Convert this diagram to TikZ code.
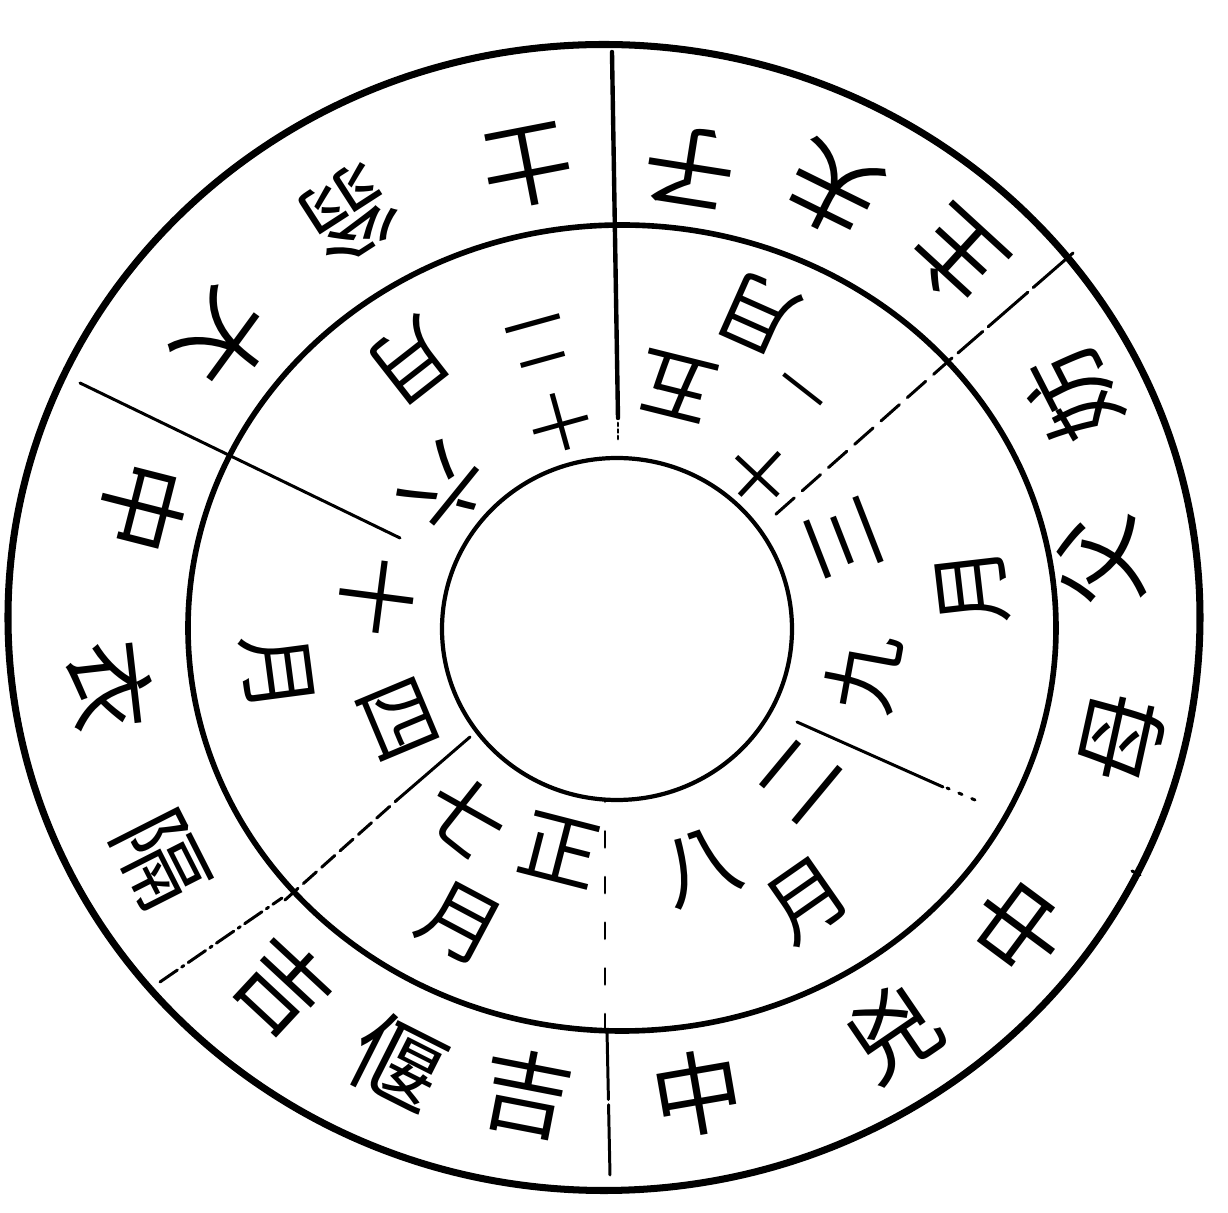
\documentclass[tikz,border=0pt]{standalone}
\usepackage{fontspec}
\newfontfamily\ringfont{Noto Sans CJK TC}
\tikzset{
  rim line/.style={draw=black,line width=4pt},
  ring line/.style={draw=black,line width=3.2pt},
  hub line/.style={draw=black,line width=2.4pt},
  spoke line/.style={black,line width=1.7pt,line cap=round},
  outer char/.style={font=\ringfont\fontsize{52}{52}\selectfont,inner sep=0pt},
  month char/.style={font=\ringfont\fontsize{46}{46}\selectfont,inner sep=0pt},
  month pair/.style={font=\ringfont\fontsize{36}{47}\selectfont,inner sep=0pt,align=center},
  month dash/.style={font=\ringfont\fontsize{30}{30}\selectfont,inner sep=0pt}
}
% #1 name, #2 angle, #3 radius, #4 text (top of the sign towards the centre)
\newcommand{\ringcharat}[4]{%
  \node[outer char,rotate=#2+90] (#1) at (#2:#3) {#4};%
}
\newcommand{\monthcharat}[4]{%
  \node[month char,rotate=#2+90] (#1) at (#2:#3) {#4};%
}
\newcommand{\monthpairat}[4]{%
  \node[month pair,rotate=#2+90] (#1) at (#2:#3) {#4};%
}

\begin{document}
\begin{tikzpicture}[x=0.02cm,y=0.02cm]
  \useasboundingbox (-617,-585) rectangle (611,628);
  % circles
  \draw[rim line] (-13,10.5) ellipse [x radius=596,y radius=573];
  \draw[ring line] (5,0) ellipse [x radius=434,y radius=403];
  \draw[hub line] (0,-1) ellipse [x radius=175,y radius=171];
  % spokes
  \draw[spoke line,line width=2.5pt] (-5,576) -- (1,210);
  \draw[spoke line,dotted] (1,205) -- (1,188);
  \draw[spoke line,dash pattern=on 30pt off 4pt] (456,375) -- (341,275);
  \draw[spoke line,dash pattern=on 14pt off 6pt] (335,270) -- (158,113);
  \draw[spoke line] (523,-247) -- (515,-243);
  \draw[spoke line,dash pattern=on 2pt off 6pt] (358,-172) -- (330,-160);
  \draw[spoke line] (326,-159) -- (180,-94);
  \draw[spoke line,dash pattern=on 40pt off 3pt] (-7,-547) -- (-10,-402);
  \draw[spoke line,dash pattern=on 9pt off 17pt] (-12,-402) -- (-12,-172);
  \draw[spoke line,dash pattern=on 12pt off 3pt on 1.5pt off 3pt] (-457,-354) -- (-335,-270);
  \draw[spoke line,dash pattern=on 10pt off 4pt] (-332,-272) -- (-220,-172);
  \draw[spoke line] (-220,-172) -- (-147,-109);
  \draw[spoke line] (-537,245) -- (-217,90);
  % outer ring
  \ringcharat{o1}{81}{467}{子}
  \ringcharat{o2}{63.7}{488}{夫}
  \ringcharat{o3}{47.5}{503}{主}
  \ringcharat{o4}{27.1}{512}{妨}
  \ringcharat{o5}{7.9}{488}{父}
  \ringcharat{o6}{-12.4}{518}{母}
  \ringcharat{o7}{-36.6}{502}{中}
  \ringcharat{o8}{-55.7}{490}{兇}
  \ringcharat{o9}{-80.2}{472}{中}
  \ringcharat{o10}{-101}{474}{吉}
  \ringcharat{o11}{-116.8}{487}{偃}
  \ringcharat{o12}{-132.9}{490}{吉}
  \ringcharat{o13}{-153.1}{512}{隔}
  \ringcharat{o14}{-173.5}{510}{衣}
  \ringcharat{o15}{165.7}{489}{中}
  \ringcharat{o16}{143.8}{488}{大}
  \ringcharat{o17}{122.8}{493}{翁}
  \ringcharat{o18}{101}{470}{士}
  % month ring
  \monthcharat{m1}{255.6}{229}{正}
  \monthcharat{m2}{231.6}{241}{七}
  \monthcharat{m3}{242}{334}{月}
  \monthcharat{m4}{289.2}{253}{八}
  \monthcharat{m5}{320.3}{238}{二}
  \monthcharat{m6}{304.9}{332}{月}
  \monthcharat{m7}{21.3}{243}{三}
  \monthcharat{m8}{-10.4}{250}{九}
  \monthcharat{m9}{6.6}{358}{月}
  \monthcharat{m10}{76}{248}{五}
  \node[month pair,rotate=137] (m11) at (47:210) {十};
  \node[month dash,rotate=142] (m12) at (52:312) {一};
  \monthcharat{m13}{66}{345}{月}
  \monthcharat{m14}{141}{222}{六}
  \monthpairat{m15}{105.5}{252}{十\\二}
  \monthcharat{m16}{128}{338}{月}
  \monthcharat{m17}{172.6}{242}{十}
  \monthcharat{m18}{202.7}{238}{四}
  \monthcharat{m19}{187.5}{343}{月}
\end{tikzpicture}
\end{document}
